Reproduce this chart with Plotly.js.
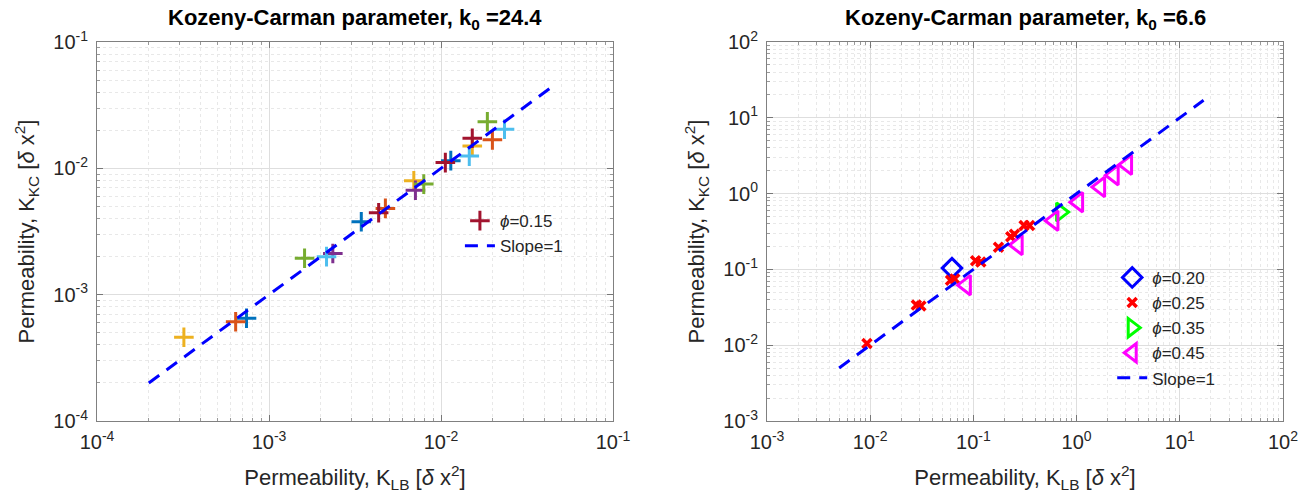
<!DOCTYPE html>
<html>
<head>
<meta charset="utf-8">
<script src="https://cdn.plot.ly/plotly-3.0.1.min.js"></script>
<style>html,body{margin:0;padding:0;background:#fff;}#plot{width:1307px;height:499px;}</style>
</head>
<body>
<div id="plot"></div>
<script>
// ---- Left panel data (k0 = 24.4), one array pair per colour ----
const leftColors = ['#0072BD','#D95319','#EDB120','#7E2F8E','#77AC30','#4DBEEE','#A2142F'];
const lb_blue   = [7.4e-4, 3.44e-3, 0.0114];
const kc_blue   = [6.5e-4, 3.78e-3, 0.0115];
const lb_orange = [6.4e-4, 4.75e-3, 0.0199];
const kc_orange = [6.1e-4, 4.82e-3, 0.0168];
const lb_yellow = [3.2e-4, 6.95e-3, 0.0152];
const kc_yellow = [4.6e-4, 7.98e-3, 0.0150];
const lb_purple = [2.35e-3, 7.1e-3];
const kc_purple = [2.12e-3, 6.7e-3];
const lb_green  = [1.61e-3, 7.94e-3, 0.0186];
const kc_green  = [1.94e-3, 7.5e-3, 0.0234];
const lb_lblue  = [2.16e-3, 0.0146, 0.0234];
const kc_lblue  = [2.0e-3, 0.0125, 0.0204];
const lb_dred   = [4.34e-3, 0.0106, 0.0152];
const kc_dred   = [4.45e-3, 0.0111, 0.0173];
const slopeLeft = [2e-4, 0.045];

// ---- Right panel data (k0 = 6.6) ----
const phi20_lb = [0.062];
const phi20_kc = [0.104];
const phi25_lb = [0.0093, 0.028, 0.031, 0.060, 0.066, 0.105, 0.118, 0.175, 0.23, 0.25, 0.31, 0.35];
const phi25_kc = [0.0105, 0.034, 0.033, 0.072, 0.075, 0.13, 0.125, 0.196, 0.27, 0.29, 0.38, 0.38];
const phi35_lb = [0.70];
const phi35_kc = [0.57];
const phi45_lb = [0.085, 0.27, 0.6, 1.04, 1.7, 2.3, 3.1];
const phi45_kc = [0.062, 0.21, 0.44, 0.77, 1.22, 1.75, 2.4];
const slopeRight = [0.005, 17];

const leftTickVals = [1e-4, 1e-3, 1e-2, 1e-1];
const leftTickText = ['10<sup>-4</sup>','10<sup>-3</sup>','10<sup>-2</sup>','10<sup>-1</sup>'];
const rightTickVals = [1e-3, 1e-2, 1e-1, 1, 10, 100];
const rightTickText = ['10<sup>-3</sup>','10<sup>-2</sup>','10<sup>-1</sup>','10<sup>0</sup>','10<sup>1</sup>','10<sup>2</sup>'];

const titles = ['Kozeny-Carman parameter, k<sub>0</sub> =24.4', 'Kozeny-Carman parameter, k<sub>0</sub> =6.6'];
const xTitle = 'Permeability, K<sub>LB</sub> [<i>δ</i> x<sup>2</sup>]';
const yTitle = 'Permeability, K<sub>KC</sub> [<i>δ</i> x<sup>2</sup>]';

const FONT = 'Liberation Sans, Arial, sans-serif';
const TXT = '#262626';

function plus(x, y, c, show, name) {
  return {x: x, y: y, type: 'scatter', mode: 'markers', xaxis: 'x', yaxis: 'y',
    name: name || '', showlegend: !!show, legend: 'legend',
    marker: {symbol: 'cross-thin', size: 14, color: c, line: {width: 3, color: c}}};
}

const leftSets = [[lb_blue,kc_blue],[lb_orange,kc_orange],[lb_yellow,kc_yellow],[lb_purple,kc_purple],[lb_green,kc_green],[lb_lblue,kc_lblue]];
const traces = [];
leftSets.forEach((s, i) => traces.push(plus(s[0], s[1], leftColors[i], false)));
traces.push(plus(lb_dred, kc_dred, leftColors[6], true, '<i>ϕ</i>=0.15'));
traces.push({x: slopeLeft, y: slopeLeft, type: 'scatter', mode: 'lines', xaxis: 'x', yaxis: 'y',
  name: 'Slope=1', legend: 'legend', line: {color: '#0000FF', width: 3, dash: '13px,9px'}});

traces.push({x: phi20_lb, y: phi20_kc, type: 'scatter', mode: 'markers', xaxis: 'x2', yaxis: 'y2',
  name: '<i>ϕ</i>=0.20', legend: 'legend2',
  marker: {symbol: 'diamond-open', size: 15, color: '#0000FF', line: {width: 3, color: '#0000FF'}}});
traces.push({x: phi25_lb, y: phi25_kc, type: 'scatter', mode: 'markers', xaxis: 'x2', yaxis: 'y2',
  name: '<i>ϕ</i>=0.25', legend: 'legend2',
  marker: {symbol: 'x-thin', size: 9, color: '#FF0000', line: {width: 3.5, color: '#FF0000'}}});
traces.push({x: phi35_lb, y: phi35_kc, type: 'scatter', mode: 'markers', xaxis: 'x2', yaxis: 'y2',
  name: '<i>ϕ</i>=0.35', legend: 'legend2',
  marker: {symbol: 'triangle-right-open', size: 16, color: '#00FF00', line: {width: 3, color: '#00FF00'}}});
traces.push({x: phi45_lb, y: phi45_kc, type: 'scatter', mode: 'markers', xaxis: 'x2', yaxis: 'y2',
  name: '<i>ϕ</i>=0.45', legend: 'legend2',
  marker: {symbol: 'triangle-left-open', size: 17, color: '#FF00FF', line: {width: 3, color: '#FF00FF'}}});
traces.push({x: slopeRight, y: slopeRight, type: 'scatter', mode: 'lines', xaxis: 'x2', yaxis: 'y2',
  name: 'Slope=1', legend: 'legend2', line: {color: '#0000FF', width: 3, dash: '13px,9px'}});

function axis(range, tv, tt, domain, title, anchor, isY) {
  return {
    type: 'log', range: range, domain: domain, anchor: anchor,
    tickvals: tv, ticktext: tt, tickfont: {family: FONT, size: 20, color: TXT},
    ticks: 'inside', ticklen: 6, tickcolor: '#777', mirror: 'allticks',
    ticklabelstandoff: isY ? 4 : 3,
    showline: true, linecolor: '#808080', linewidth: 1,
    showgrid: true, gridcolor: '#dedede', gridwidth: 1,
    zeroline: false, automargin: false,
    minor: {showgrid: true, gridcolor: '#e8e8e8', griddash: 'dot', ticks: 'inside', ticklen: 3, tickcolor: '#999', dtick: 'D1'},
    title: {text: title, font: {family: FONT, size: 22, color: TXT}, standoff: isY ? 12 : 17}
  };
}

const layout = {
  width: 1307, height: 499,
  margin: {l: 97, r: 24, t: 42, b: 78},
  paper_bgcolor: '#ffffff', plot_bgcolor: '#ffffff',
  font: {family: FONT, color: TXT},
  xaxis: axis([-4, -1], leftTickVals, leftTickText, [0, 516/1186], xTitle, 'y', false),
  yaxis: axis([-4, -1], leftTickVals, leftTickText, [0, 1], yTitle, 'x', true),
  xaxis2: axis([-3, 2], rightTickVals, rightTickText, [670/1186, 1], xTitle, 'y2', false),
  yaxis2: axis([-3, 2], rightTickVals, rightTickText, [0, 1], yTitle, 'x2', true),
  legend: {x: 0.306, y: 0.575, xanchor: 'left', yanchor: 'top', bgcolor: 'rgba(0,0,0,0)',
    font: {family: FONT, size: 17, color: TXT}, tracegroupgap: 0},
  legend2: {x: 0.856, y: 0.425, xanchor: 'left', yanchor: 'top', bgcolor: 'rgba(0,0,0,0)',
    font: {family: FONT, size: 17, color: TXT}, tracegroupgap: 0},
  annotations: [
    {text: '<b>' + titles[0] + '</b>', xref: 'paper', yref: 'paper', x: 258/1186, xanchor: 'center', y: 1, yanchor: 'bottom', yshift: 7,
     showarrow: false, font: {family: FONT, size: 22, color: '#000'}},
    {text: '<b>' + titles[1] + '</b>', xref: 'paper', yref: 'paper', x: (670+258)/1186, xanchor: 'center', y: 1, yanchor: 'bottom', yshift: 7,
     showarrow: false, font: {family: FONT, size: 22, color: '#000'}}
  ]
};

Plotly.newPlot('plot', traces, layout, {displayModeBar: false, staticPlot: true});
</script>
</body>
</html>
